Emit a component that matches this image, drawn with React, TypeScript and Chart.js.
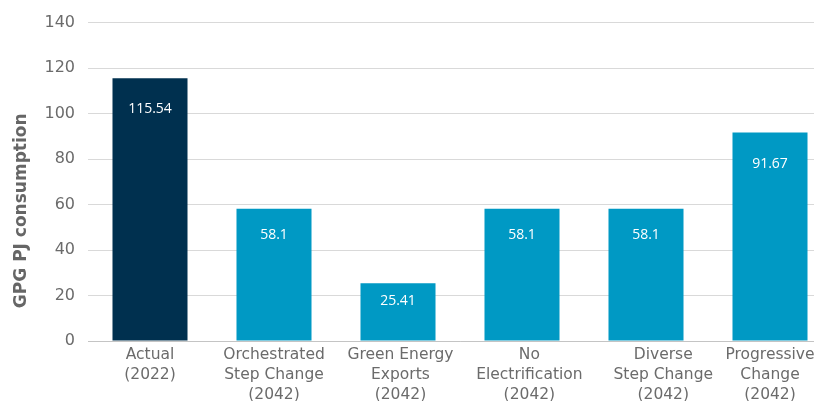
import { useEffect, useRef } from "react";
import { Chart, registerables } from "chart.js";

Chart.register(...registerables);

// Scenario names, one entry per line of the axis label
const categories: string[][] = [
  ["Actual", "(2022)"],
  ["Orchestrated", "Step Change", "(2042)"],
  [" Green Energy", " Exports", " (2042)"],
  ["   No", "   Electrification", "   (2042)"],
  ["       Diverse", "       Step Change", "       (2042)"],
  ["Progressive", "Change", "(2042)"],
];

// GPG consumption in PJ
const consumption: number[] = [115.54, 58.1, 25.41, 58.1, 58.1, 91.67];

const barColors: string[] = ["#00304F", "#0099C4", "#0099C4", "#0099C4", "#0099C4", "#0099C4"];

const yMin = 0;
const yMax = 140;
const yStep = 20;

const axisTitle = "GPG PJ consumption";

const TEXT_FONT = "'DejaVu Sans', sans-serif";
const VALUE_FONT = "'Open Sans', 'Noto Sans', sans-serif";

const valueLabels = {
  id: "valueLabels",
  afterDatasetsDraw(chart: Chart) {
    const { ctx } = chart;
    const meta = chart.getDatasetMeta(0);
    ctx.save();
    ctx.fillStyle = "#ffffff";
    ctx.font = `14px ${VALUE_FONT}`;
    ctx.textAlign = "center";
    ctx.textBaseline = "middle";
    meta.data.forEach((bar: any, i: number) => {
      const h = bar.base - bar.y;
      const offset = Math.min(31, 12 + 0.11 * h);
      ctx.fillText(String(consumption[i]), bar.x, bar.y + offset);
    });
    ctx.restore();
  },
};

const yTitle = {
  id: "yTitle",
  afterDraw(chart: Chart) {
    const { ctx, chartArea } = chart;
    ctx.save();
    ctx.translate(22, (chartArea.top + chartArea.bottom) / 2 + 29);
    ctx.rotate(-Math.PI / 2);
    ctx.fillStyle = "#666666";
    ctx.font = `bold 17px ${TEXT_FONT}`;
    ctx.textAlign = "center";
    ctx.textBaseline = "middle";
    ctx.fillText(axisTitle, 0, 0);
    ctx.restore();
  },
};

export default function App() {
  const canvasRef = useRef<HTMLCanvasElement | null>(null);

  useEffect(() => {
    if (!canvasRef.current) return;
    const chart = new Chart(canvasRef.current, {
      type: "bar",
      data: {
        labels: categories,
        datasets: [
          {
            data: consumption,
            backgroundColor: barColors,
            borderWidth: 0,
            categoryPercentage: 1,
            barPercentage: 0.605,
          },
        ],
      },
      options: {
        responsive: false,
        animation: false,
        layout: { padding: { top: 21, right: 8, left: 0, bottom: 0 } },
        plugins: {
          legend: { display: false },
          tooltip: { enabled: false },
        },
        scales: {
          x: {
            grid: { display: false, drawTicks: false },
            border: { display: true, color: "#c4c4c4", width: 1 },
            ticks: {
              color: "#6b6b6b",
              font: { family: TEXT_FONT, size: 15.5, lineHeight: 1.28 },
              padding: 4,
              maxRotation: 0,
              autoSkip: false,
            },
            afterFit(scale: any) {
              scale.height = 60;
            },
          },
          y: {
            min: yMin,
            max: yMax,
            grid: { color: "#d9d9d9", drawTicks: false },
            border: { display: false },
            ticks: {
              stepSize: yStep,
              color: "#6b6b6b",
              font: { family: TEXT_FONT, size: 16 },
              padding: 13,
            },
            afterFit(scale: any) {
              scale.width = 88;
            },
          },
        },
      },
      plugins: [valueLabels, yTitle],
    });
    return () => chart.destroy();
  }, []);

  return (
    <div
      style={{
        position: "fixed",
        left: 0,
        top: 0,
        width: 814,
        height: 401,
        overflow: "hidden",
        background: "#ffffff",
      }}
    >
      <canvas ref={canvasRef} width={840} height={401} />
    </div>
  );
}
